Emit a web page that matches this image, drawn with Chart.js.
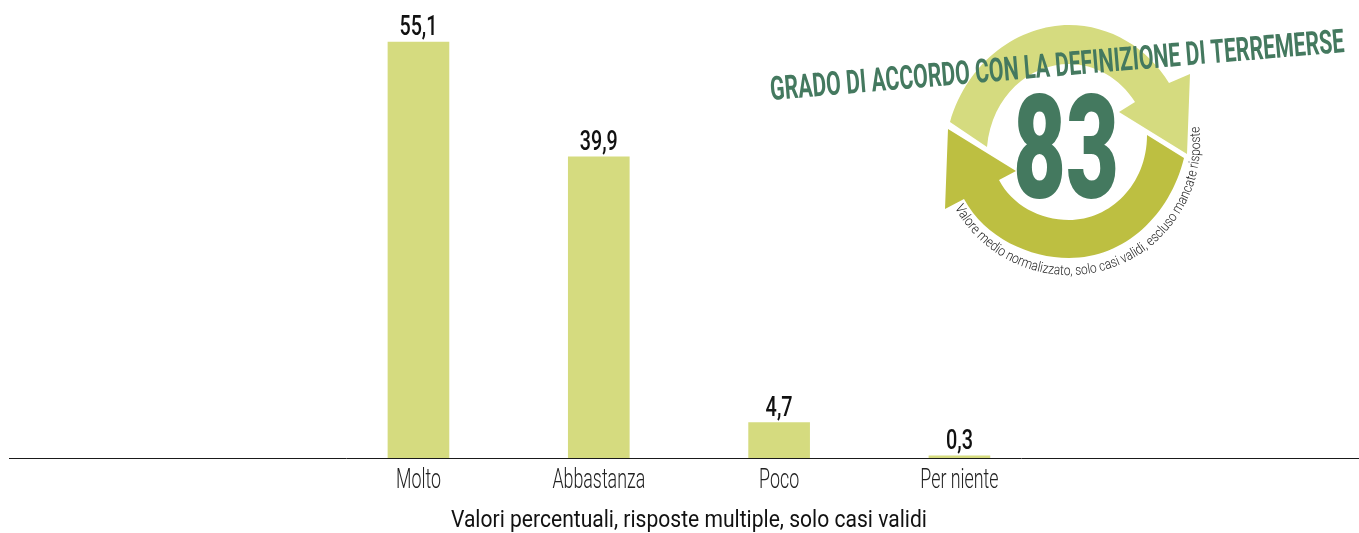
<!DOCTYPE html>
<html><head><meta charset="utf-8">
<style>html,body{margin:0;padding:0;background:#fff}canvas{display:block}</style>
<script src="https://cdn.jsdelivr.net/npm/chart.js@4"></script></head>
<body><canvas id="c" width="1359" height="533"></canvas>
<script>
const categories = ["Molto","Abbastanza","Poco","Per niente"];
const values = [55.1,39.9,4.7,0.3];
const valueLabels = ["55,1","39,9","4,7","0,3"];
const axisNote = "Valori percentuali, risposte multiple, solo casi validi";
const badgeTitle = "GRADO DI ACCORDO CON LA DEFINIZIONE DI TERREMERSE";
const badgeValue = "83";
const badgeNote = "Valore medio normalizzato, solo casi validi, escluso mancate risposte";
const FONT = 'Roboto';
const GREEN = '#44795f', LIGHT = '#d5db7f', DARK = '#bdbf41';
const TICK_SIZE = 27, NOTE_SIZE = 23, TICK_NARROW = 0.66, NOTE_NARROW = 0.916;

const canvas = document.getElementById('c');
const rawCtx = canvas.getContext('2d');
// Condensed look: no narrow face is installed, so axis text is squeezed horizontally around its anchor.
const rawFill = rawCtx.fillText.bind(rawCtx);
rawCtx.fillText = function(t,x,y){
  const f = rawCtx.font;
  let k = 1;
  if (f.includes(TICK_SIZE+'px') && !f.includes('bold')) k = TICK_NARROW;
  else if (f.includes(NOTE_SIZE+'px')) k = NOTE_NARROW;
  if (k === 1) return rawFill(t,x,y);
  rawCtx.save(); rawCtx.translate(x,y); rawCtx.scale(k,1); rawFill(t,0,0); rawCtx.restore();
};

function fitted(ctx, text, font, x, y, targetW, angle, color){
  ctx.save(); ctx.font = font; ctx.fillStyle = color;
  ctx.textBaseline = 'alphabetic'; ctx.textAlign = 'left';
  const w = ctx.measureText(text).width;
  ctx.translate(x,y); ctx.rotate(angle); ctx.scale(targetW/w,1);
  rawFill(text,0,0); ctx.restore();
}
const decor = {
  id:'decor',
  afterDatasetsDraw(chart){
    const ctx = chart.ctx, y = chart.scales.y, zero = Math.round(y.getPixelForValue(0))+0.5;
    ctx.save(); ctx.strokeStyle='#1a1a1a'; ctx.lineWidth=1;
    ctx.beginPath(); ctx.moveTo(9,zero); ctx.lineTo(1359,zero); ctx.stroke();
    ctx.fillStyle='#111'; ctx.textAlign='center'; ctx.textBaseline='alphabetic';
    ctx.font='500 28px '+FONT;
    const meta = chart.getDatasetMeta(0);
    valueLabels.forEach((t,i)=>{ const b=meta.data[i];
      const w=ctx.measureText(t).width, target=(t.length===4?38:27);
      ctx.save(); ctx.translate(b.x,b.y-7); ctx.scale(target/w,1); rawFill(t,0,0); ctx.restore(); });
    ctx.restore();
    ctx.save(); ctx.fillStyle=LIGHT; ctx.beginPath();
    ctx.moveTo(950,122); ctx.bezierCurveTo(968,60,1020,25,1069,25);
    ctx.bezierCurveTo(1110,25,1148,48,1169,83);
    ctx.lineTo(1190,74); ctx.lineTo(1187,154); ctx.lineTo(1119,112); ctx.lineTo(1135,102);
    ctx.bezierCurveTo(1120,78,1095,64,1069,64);
    ctx.bezierCurveTo(1030,64,992,95,987,147); ctx.closePath(); ctx.fill();
    ctx.fillStyle=DARK; ctx.beginPath();
    ctx.moveTo(1184,158); ctx.bezierCurveTo(1170,215,1125,258,1069,258);
    ctx.bezierCurveTo(1030,258,985,238,964,199);
    ctx.lineTo(945,209); ctx.lineTo(948,129); ctx.lineTo(1016,171); ctx.lineTo(999,180);
    ctx.bezierCurveTo(1012,205,1040,220,1069,220);
    ctx.bezierCurveTo(1110,220,1147,185,1147,135); ctx.closePath(); ctx.fill();
    ctx.restore();
    fitted(ctx,badgeValue,'900 144px '+FONT,1013,198,106,0,GREEN);
    fitted(ctx,badgeTitle,'bold 33px '+FONT,771,100,576,-0.0834,GREEN);
    ctx.save(); ctx.fillStyle='#222'; ctx.font='300 14px '+FONT; ctx.textBaseline='alphabetic'; ctx.textAlign='center';
    const cx=1069, cy=143, rx=131, ry=132;
    const a0=Math.atan2(65/ry,-115/rx), a1=Math.atan2(-16/ry,130/rx);
    const total=ctx.measureText(badgeNote).width;
    const squeeze=(a0-a1)*131/total;
    let run=0;
    for(const ch of badgeNote){
      const w=ctx.measureText(ch).width, t=(run+w/2)/total, a=a0+(a1-a0)*t;
      ctx.save(); ctx.translate(cx+rx*Math.cos(a),cy+ry*Math.sin(a)); ctx.rotate(a-Math.PI/2); ctx.scale(squeeze,1); rawFill(ch,0,0); ctx.restore();
      run+=w;
    }
    ctx.restore();
  }
};
new Chart(canvas,{
  type:'bar',
  data:{labels:categories,datasets:[{data:values,backgroundColor:LIGHT,barThickness:61,borderWidth:0}]},
  options:{
    responsive:false,animation:false,
    layout:{padding:{left:328.3,right:309.4,top:5,bottom:0}},
    font:{family:FONT},
    plugins:{legend:{display:false},tooltip:{enabled:false}},
    scales:{
      y:{display:false,min:0,max:60},
      x:{
        afterFit(s){s.height=75;},
        grid:{display:false,drawTicks:false},border:{display:false},
        ticks:{color:'#222',font:{family:FONT,size:TICK_SIZE,weight:'300'},padding:7,maxRotation:0,autoSkip:false},
        title:{display:true,text:axisNote,color:'#111',font:{family:FONT,size:NOTE_SIZE,lineHeight:1},padding:{top:6,bottom:0}}
      }
    }
  },
  plugins:[decor]
});
</script></body></html>
